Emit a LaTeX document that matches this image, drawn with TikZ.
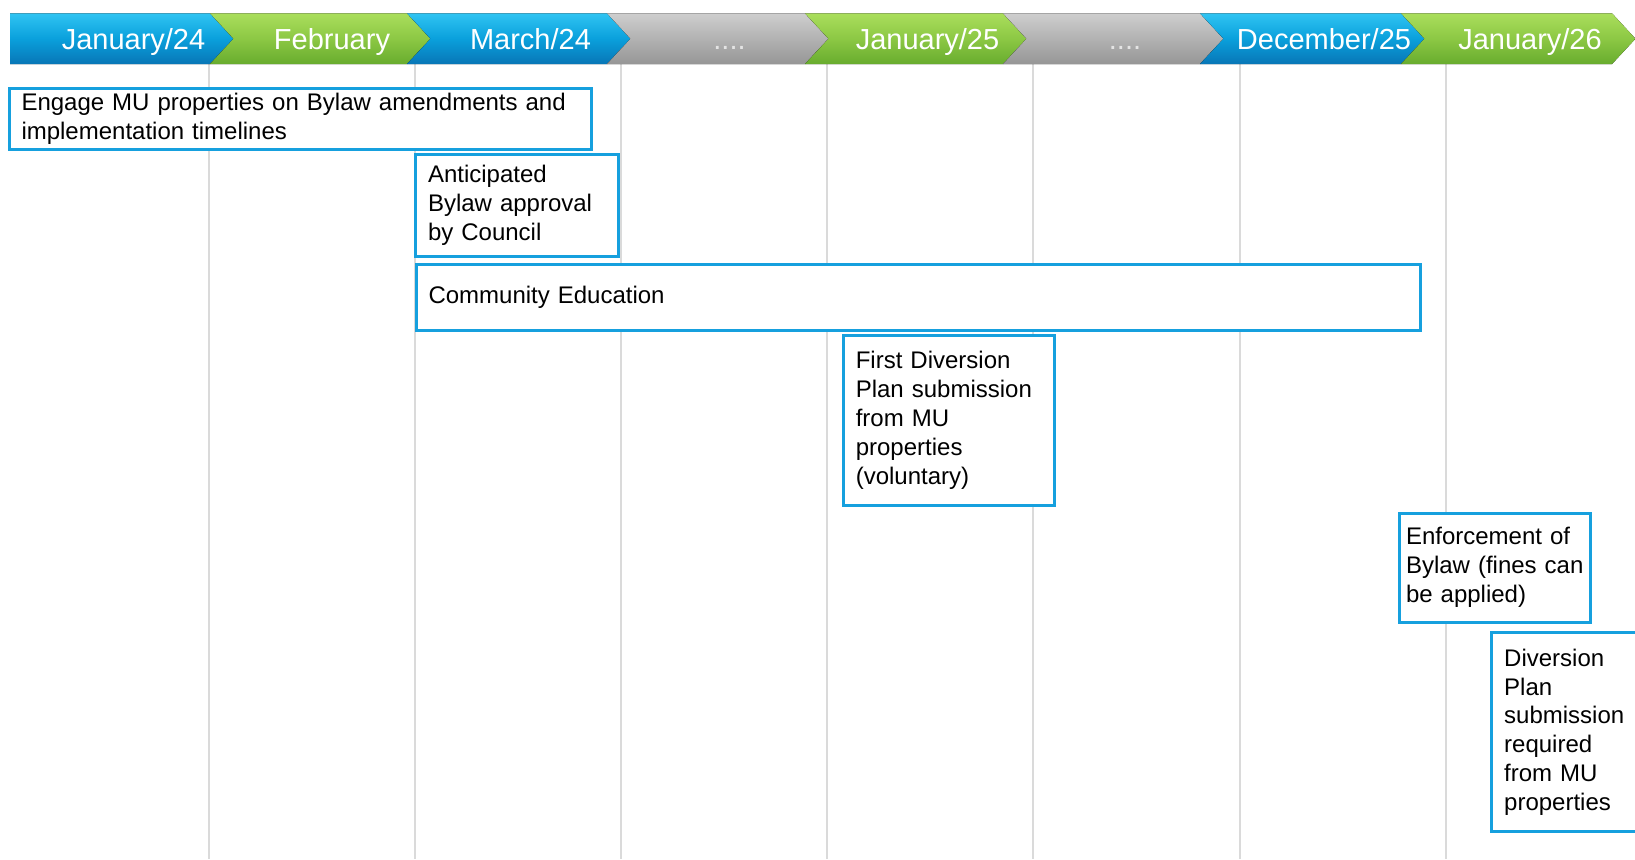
\documentclass[tikz,border=0pt]{standalone}
\usepackage{fontspec}
\setmainfont{Liberation Sans}
\definecolor{boxblue}{RGB}{22,160,222}
\definecolor{gridgray}{RGB}{218,218,218}
\definecolor{dotgray}{RGB}{228,228,228}
\tikzset{
  bluearrow/.style={top color={rgb,255:red,48;green,196;blue,242}, bottom color={rgb,255:red,8;green,118;blue,182}, middle color={rgb,255:red,10;green,160;blue,220}},
  greenarrow/.style={top color={rgb,255:red,170;green,222;blue,92}, bottom color={rgb,255:red,104;green,172;blue,46}, middle color={rgb,255:red,140;green,200;blue,68}},
  grayarrow/.style={top color={rgb,255:red,206;green,206;blue,206}, bottom color={rgb,255:red,150;green,150;blue,150}, middle color={rgb,255:red,178;green,178;blue,178}},
}

\begin{document}
\begin{tikzpicture}[x=0.5pt, y=-0.5pt,
    taskbox/.style={draw=boxblue, line width=1.5pt, fill=white, anchor=north west,
      outer sep=0pt, inner ysep=0pt, inner xsep=6.25pt, align=left,
      font=\fontsize{12}{14.45}\selectfont},
    month/.style={font=\fontsize{14.5}{17}\selectfont, text height=10.4pt, text depth=0pt}]
  \clip (0,0) rectangle (1635,859);
  % month columns
  \foreach \x in {209, 415, 621, 827, 1033, 1240, 1446}
    \draw[gridgray, line width=0.75pt] (\x, 64) -- (\x, 859);
  % chevron bar
  \foreach \xl/\xr/\dn/\seg/\tc/\lbl [count=\i] in {
      10/210/0/bluearrow/white/{January/24},
      210/407/23.5/greenarrow/white/{February},
      407/607/23.5/bluearrow/white/{March/24},
      607/805/23.5/grayarrow/dotgray/{....},
      805/1003/23.5/greenarrow/white/{January/25},
      1003/1200/23.5/grayarrow/dotgray/{....},
      1200/1401/23.5/bluearrow/white/{December/25},
      1401/1612/23.5/greenarrow/white/{January/26}}{
    \fill[\seg] (\xl, 13.3) -- (\xr, 13.3) -- (\xr + 23.5, 38.7) -- (\xr, 64)
      -- (\xl, 64) -- (\xl + \dn, 38.7) -- cycle;
    \node[month, text=\tc] (m\i) at ({(\xl + \xr) / 2 + 23.5}, 38.7) {\lbl};
  }
  % tasks
  \node[taskbox, text width=278.5pt, minimum height=30.5pt] (engage) at (9, 88.3)
    {Engage MU properties on Bylaw amendments and\\implementation timelines};
  \node[taskbox, text width=88.75pt, minimum height=51.35pt] (approval) at (415.5, 154)
    {Anticipated\\Bylaw approval\\by Council};
  \node[taskbox, text width=489.5pt, minimum height=33.25pt] (education) at (416, 264)
    {Community Education};
  \node[taskbox, text width=93pt, minimum height=85.35pt] (firstplan) at (843.3, 335)
    {First Diversion\\Plan submission\\from MU\\properties\\(voluntary)};
  \node[taskbox, inner xsep=3.5pt, text width=88.5pt, minimum height=54.35pt] (enforce) at (1399, 513.3)
    {Enforcement of\\Bylaw~(fines~can\\be applied)};
  \node[taskbox, text width=65pt, minimum height=99.5pt] (reqplan) at (1491.7, 632.7)
    {Diversion\\Plan\\submission\\required\\from MU\\properties};
\end{tikzpicture}
\end{document}
